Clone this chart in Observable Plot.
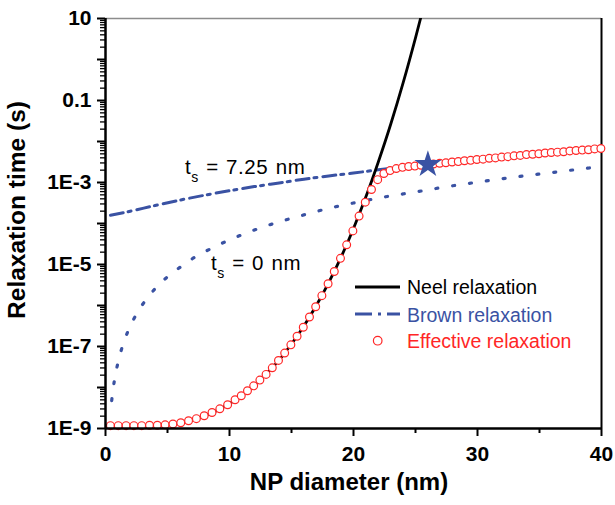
<!DOCTYPE html>
<html><head><meta charset="utf-8">
<script src="https://cdn.jsdelivr.net/npm/d3@7"></script>
<script src="https://cdn.jsdelivr.net/npm/@observablehq/plot@0.6"></script>
<style>
body{margin:0;background:#fff;}
#chart svg{display:block;font-family:"Liberation Sans",Arial,sans-serif;}
</style></head><body><div id="chart"></div>
<script>
// ---------- data (log10 of relaxation time in s) ----------
const neelD   = [0,2,4,5,6,7,8,9,10,11,12,13,14,15,16,17,18,19,20,21,22,23,24,25,25.5];
const neelLog = [-8.93,-8.93,-8.93,-8.92,-8.87,-8.79,-8.69,-8.56,-8.39,-8.19,-7.95,-7.66,-7.33,-6.94,-6.50,-6.00,-5.44,-4.82,-4.12,-3.35,-2.50,-1.58,-0.57,0.53,1.11];

const brownD   = [0.4,2,4,6,8,10,12,14,16,18,20,22,24,26,28,30,32,34,36,38,40];
const brownLog = [-3.80,-3.70,-3.56,-3.43,-3.31,-3.20,-3.10,-3.01,-2.92,-2.84,-2.77,-2.69,-2.62,-2.56,-2.50,-2.44,-2.38,-2.32,-2.27,-2.22,-2.17];

const brown0D   = [0.5,0.6,0.8,1,1.3,1.6,2,2.5,3,4,5,6,7,8,10,12,14,16,18,20,22,25,28,31,34,37,40];
const brown0Log = [-8.32,-8.07,-7.69,-7.40,-7.06,-6.79,-6.50,-6.21,-5.97,-5.59,-5.30,-5.07,-4.86,-4.69,-4.40,-4.16,-3.96,-3.79,-3.63,-3.50,-3.38,-3.23,-3.08,-2.95,-2.83,-2.72,-2.61];

const effD = [0.4,1.03,1.66,2.29,2.92,3.55,4.18,4.81,5.44,6.07,6.70,7.33,7.96,8.59,9.22,9.85,
  10.45,10.95,11.45,11.95,12.45,12.95,13.45,13.95,14.45,14.95,15.45,15.95,16.45,16.95,17.45,17.95,18.45,
  18.95,19.45,19.95,20.45,20.95,21.45,21.95,22.45,22.95,23.45,23.95,24.45,24.95,
  25.45,25.95,26.45,26.95,27.45,27.95,28.45,28.95,29.45,29.95,30.45,30.95,31.45,31.95,32.45,32.95,
  33.45,33.95,34.45,34.95,35.45,35.95,36.45,36.95,37.45,37.95,38.45,38.95,39.45,39.95];
const effLog = [-8.93,-8.93,-8.93,-8.93,-8.93,-8.92,-8.92,-8.91,-8.89,-8.86,-8.81,-8.76,-8.69,-8.61,-8.52,-8.42,
  -8.30,-8.20,-8.08,-7.96,-7.82,-7.68,-7.52,-7.34,-7.16,-6.96,-6.75,-6.53,-6.28,-6.03,-5.76,-5.47,-5.17,
  -4.85,-4.52,-4.18,-3.82,-3.48,-3.17,-2.93,-2.78,-2.71,-2.66,-2.63,-2.61,-2.60,
  -2.58,-2.56,-2.55,-2.53,-2.52,-2.50,-2.49,-2.47,-2.46,-2.44,-2.43,-2.41,-2.40,-2.38,-2.37,-2.35,
  -2.34,-2.32,-2.31,-2.30,-2.28,-2.27,-2.26,-2.25,-2.23,-2.22,-2.21,-2.20,-2.18,-2.17];

const starD = [26.0];
const starLog = [-2.56];

const xMajor = [0,10,20,30,40];
const xMinor = [5,15,25,35];
const yLabelTicks = [10,0.1,1e-3,1e-5,1e-7,1e-9];
const yLabelText  = ["10","0.1","1E-3","1E-5","1E-7","1E-9"];
const yUnlabeled  = [1,1e-2,1e-4,1e-6,1e-8];
const yMinor = [];
for (let e = -9; e <= 0; e++) for (let k = 2; k <= 9; k++) yMinor.push(k * 10 ** e);

const legendLabels = ["Neel relaxation","Brown relaxation","Effective relaxation"];
const annoText = [["t","s"," = 7.25 nm"],["t","s"," = 0 nm"]];

// ---------- tables ----------
const toRows = (ds, ls) => ds.map((d, i) => ({d, t: 10 ** ls[i]}));
const neel = toRows(neelD, neelLog);
const brown = toRows(brownD, brownLog);
const brown0 = toRows(brown0D, brown0Log);
const effective = toRows(effD, effLog);
const star = toRows(starD, starLog);

const BLUE = "#3a52a3", RED = "#ff2626";
const FONT = '"Liberation Sans", Arial, sans-serif';

const chart = Plot.plot({
  width: 615, height: 505,
  marginLeft: 105, marginRight: 14, marginTop: 18, marginBottom: 77,
  style: {fontFamily: FONT, background: "#fff", overflow: "visible"},
  x: {domain: [0, 40]},
  y: {type: "log", domain: [1e-9, 10]},
  marks: [
    Plot.axisY({ticks: yLabelTicks, tickSize: 8, tickPadding: 6,
      tickFormat: v => yLabelText[yLabelTicks.indexOf(v)], fontSize: 21, fontWeight: "bold", strokeWidth: 2, label: null}),
    Plot.axisY({ticks: yUnlabeled, tickSize: 8, tickFormat: () => "", strokeWidth: 2, label: null}),
    Plot.axisY({ticks: yMinor, tickSize: 5, tickFormat: () => "", strokeWidth: 1.3, label: null}),
    Plot.axisX({ticks: xMajor, tickSize: 8, tickPadding: 10, fontSize: 21, fontWeight: "bold", strokeWidth: 2, label: null}),
    Plot.axisX({ticks: xMinor, tickSize: 5, tickFormat: () => "", strokeWidth: 2, label: null}),
    Plot.ruleY([10], {stroke: "#8c8c8c", strokeWidth: 1.5}),
    Plot.ruleX([40], {stroke: "#000", strokeWidth: 2}),
    Plot.line(brown0, {x: "d", y: "t", stroke: BLUE, strokeWidth: 3.2, strokeDasharray: "2 15", strokeLinecap: "round", curve: "monotone-x"}),
    Plot.line(brown, {x: "d", y: "t", stroke: BLUE, strokeWidth: 3, strokeDasharray: "13 5 3 6", curve: "monotone-x"}),
    Plot.line(neel, {x: "d", y: "t", stroke: "#000", strokeWidth: 2.8, curve: "monotone-x", clip: true}),
    Plot.dot(effective, {x: "d", y: "t", r: 3.9, stroke: RED, fill: "#fff", strokeWidth: 1.2}),
    Plot.dot(star, {x: "d", y: "t", symbol: "star", r: 8.5, fill: BLUE, stroke: "none"}),
    Plot.ruleX([0], {stroke: "#000", strokeWidth: 2.5}),
    Plot.ruleY([1e-9], {stroke: "#000", strokeWidth: 2.5})
  ]
});
document.getElementById("chart").appendChild(chart);

const sx = chart.scale("x"), sy = chart.scale("y");
const svg = d3.select(chart);

// axis titles
svg.append("text").attr("transform", "translate(25,210) rotate(-90)")
  .attr("text-anchor", "middle").attr("font-family", FONT).attr("font-weight", "bold")
  .attr("font-size", 24.5).attr("fill", "#000").text("Relaxation time (s)");
svg.append("text").attr("x", 349).attr("y", 490)
  .attr("text-anchor", "middle").attr("font-family", FONT).attr("font-weight", "bold")
  .attr("font-size", 24).attr("fill", "#000").text("NP diameter (nm)");

// annotations with subscripts, anchored in data coordinates
const annoPos = [[6.45, 10 ** -2.805], [8.55, 10 ** -5.146]];
annoText.forEach((parts, i) => {
  const t = svg.append("text").attr("x", sx.apply(annoPos[i][0])).attr("y", sy.apply(annoPos[i][1]))
    .attr("text-anchor", "start").attr("font-family", FONT).attr("font-size", 20.5)
    .attr("word-spacing", 1).attr("letter-spacing", 0.6).attr("fill", "#000");
  t.append("tspan").text(parts[0]);
  t.append("tspan").attr("font-size", 14).attr("dy", 8).text(parts[1]);
  t.append("tspan").attr("dy", -8).text(parts[2]);
});

// legend
const lg = svg.append("g").attr("font-family", FONT).attr("font-size", 19.5).attr("text-anchor", "start");
const rowsY = [294, 321.5, 348];
lg.append("line").attr("x1", 355).attr("x2", 400).attr("y1", 287).attr("y2", 287).attr("stroke", "#000").attr("stroke-width", 3);
lg.append("line").attr("x1", 355).attr("x2", 400).attr("y1", 314).attr("y2", 314).attr("stroke", BLUE).attr("stroke-width", 3).attr("stroke-dasharray", "17 6 3 6");
lg.append("circle").attr("cx", 377.7).attr("cy", 340.7).attr("r", 4.3).attr("fill", "#fff").attr("stroke", RED).attr("stroke-width", 1.2);
const lgColors = ["#000", BLUE, RED];
legendLabels.forEach((s, i) => lg.append("text").attr("x", 407).attr("y", rowsY[i]).attr("fill", lgColors[i]).text(s));
</script></body></html>
